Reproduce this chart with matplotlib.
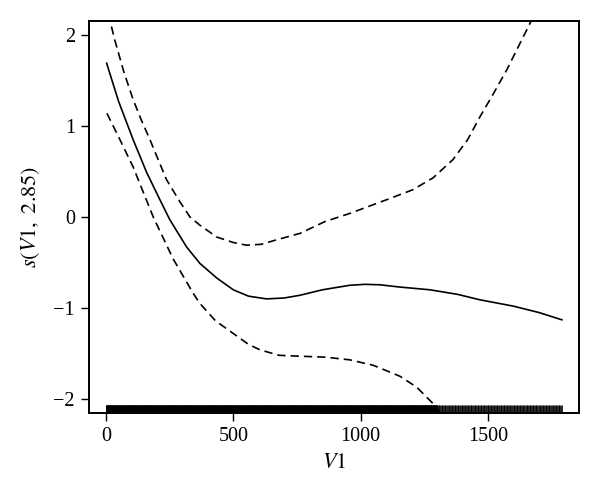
import numpy as np
import matplotlib
matplotlib.use("Agg")
import matplotlib.pyplot as plt

plt.rcParams['font.family'] = ['Liberation Serif', 'DejaVu Serif']
plt.rcParams['mathtext.fontset'] = 'stix'

# smooth estimate s(V1)
fit_x = [3, 50, 107, 160, 212, 251, 317, 369, 435, 500, 560, 631, 700, 762, 850,
         958, 1017, 1076, 1154, 1272, 1380, 1468, 1600, 1700, 1790]
fit_y = [1.69, 1.27, 0.85, 0.49, 0.19, -0.03, -0.33, -0.51, -0.67, -0.80, -0.87,
         -0.90, -0.89, -0.86, -0.80, -0.75, -0.74, -0.745, -0.77, -0.80, -0.85,
         -0.91, -0.98, -1.05, -1.13]

# upper confidence band
up_x = [0, 16, 35, 70, 107, 140, 173, 238, 290, 330, 369, 435, 500, 552, 610,
        671, 762, 860, 958, 1102, 1205, 1284, 1362, 1420, 1468, 1520, 1574,
        1665, 1790]
up_y = [2.38, 2.16, 1.945, 1.60, 1.29, 1.06, 0.85, 0.41, 0.17, 0.0, -0.09,
        -0.22, -0.28, -0.31, -0.30, -0.25, -0.18, -0.05, 0.04, 0.19, 0.30, 0.43,
        0.63, 0.85, 1.10, 1.35, 1.62, 2.13, 2.95]

# lower confidence band
lo_x = [4, 50, 107, 150, 186, 264, 343, 369, 430, 500, 560, 605, 680, 762, 860,
        958, 1050, 1154, 1220, 1284, 1380, 1468, 1574, 1665, 1790]
lo_y = [1.14, 0.88, 0.55, 0.25, 0.0, -0.46, -0.84, -0.95, -1.14, -1.28, -1.40,
        -1.46, -1.52, -1.53, -1.54, -1.57, -1.63, -1.75, -1.87, -2.05, -2.40,
        -2.92, -3.58, -4.20, -5.20]

# observed V1 values (rug)
rug_x = np.concatenate([np.arange(0, 1300, 1), np.arange(1300, 1791, 3)])

fig = plt.figure(figsize=(6, 5), dpi=100)
ax = fig.add_axes([0.148, 0.174, 0.817, 0.784])

ax.plot(fit_x, fit_y, color='black', lw=1.2)
ax.plot(up_x, up_y, color='black', lw=1.2, dashes=(5, 3))
ax.plot(lo_x, lo_y, color='black', lw=1.2, dashes=(5, 3))
ax.vlines(rug_x, 0, 0.02, color='black', lw=0.6,
          transform=ax.get_xaxis_transform())

ax.set_xlim(-67, 1857)
ax.set_ylim(-2.154, 2.154)
ax.set_xticks([0, 500, 1000, 1500])
ax.set_yticks([-2, -1, 0, 1, 2])
ax.set_yticklabels(['\u22122', '\u22121', '0', '1', '2'])
ax.tick_params(direction='out', length=6, width=1, labelsize=14.5, pad=4)
for s in ax.spines.values():
    s.set_linewidth(1.4)

ax.set_xlabel(r'$V1$', fontsize=16, labelpad=6)
ax.set_ylabel(r'$s(V1,\ 2.85)$', fontsize=16, labelpad=8)

fig.savefig('out.png', dpi=100)
